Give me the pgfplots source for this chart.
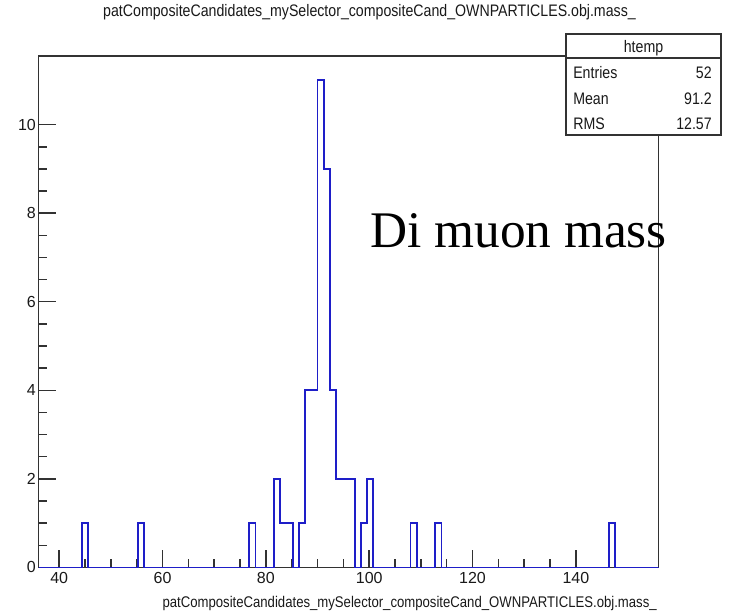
\documentclass[border=0pt]{standalone}
\usepackage{fontspec}
\setmainfont{Liberation Sans}
\newfontfamily\rootfont[FakeStretch=0.85]{Liberation Sans}
\newfontfamily\bigserif{Liberation Serif}
\usepackage{pgfplots}
\pgfplotsset{compat=1.18}

\definecolor{rootblue}{RGB}{30,30,200}
\definecolor{framegray}{RGB}{50,50,50}

% histogram htemp: lower bin edge, count (bin width 1.2, range 36..156)
\pgfplotstableread{
x y
36.0 0
44.4 1
45.6 0
55.2 1
56.4 0
76.8 1
78.0 0
81.6 2
82.8 1
84.0 1
85.2 0
86.4 1
87.6 4
88.8 4
90.0 11
91.2 9
92.4 4
93.6 2
94.8 2
96.0 2
97.2 0
98.4 1
99.6 2
100.8 0
108.0 1
109.2 0
112.8 1
114.0 0
146.4 1
147.6 0
156.0 0
}\htemp

\begin{document}
\begin{tikzpicture}[x=0.75pt,y=0.75pt]
\useasboundingbox (0,0) rectangle (735,614);
\begin{axis}[
  at={(28.9pt,34.9pt)}, anchor=south west,
  scale only axis,
  width=465pt, height=383.6pt,
  xmin=36, xmax=156, ymin=0, ymax=11.55,
  axis line style={framegray, line width=1.1pt},
  tick style={framegray, line width=1.1pt},
  tick pos=left,
  tick align=inside,
  xtick={40,60,...,140}, minor x tick num=3,
  ytick={0,2,...,10}, minor y tick num=3,
  major tick length=13pt, minor tick length=6.5pt,
  tick label style={font=\fontsize{12}{14}\selectfont, text=black!90},
  /pgf/number format/assume math mode=true,
  xticklabel style={yshift=0pt},
  yticklabel style={xshift=1.5pt},
]
\addplot[const plot, rootblue, line width=1.4pt] table {\htemp};
\end{axis}

% title and x label
\node[font=\rootfont\fontsize{12.5}{14}\selectfont, text=black!90] at (369.5,602) {patCompositeCandidates\_mySelector\_compositeCand\_OWNPARTICLES.obj.mass\_};
\node[font=\rootfont\fontsize{11.6}{13}\selectfont, text=black!90, anchor=east, inner sep=0pt] at (657,11) {patCompositeCandidates\_mySelector\_compositeCand\_OWNPARTICLES.obj.mass\_};

% stats box
\draw[framegray, line width=1.1pt, fill=white] (566,479) rectangle (721,580);
\draw[framegray, line width=1.1pt] (566,556) -- (721,556);
\begin{scope}[every node/.style={font=\rootfont\fontsize{12.5}{14}\selectfont, text=black!90, inner sep=0pt}]
\node at (643.5,566) {htemp};
\node[anchor=west] at (573,541) {Entries};
\node[anchor=west] at (573,515) {Mean};
\node[anchor=west] at (573,490) {RMS};
\node[anchor=east] at (712,541) {52};
\node[anchor=east] at (712,515) {91.2};
\node[anchor=east] at (712,490) {12.57};
\end{scope}

% annotation
\node[font=\bigserif\fontsize{38.5}{42}\selectfont, anchor=base west, inner sep=0pt] at (370,366) {Di muon mass};
\end{tikzpicture}
\end{document}
